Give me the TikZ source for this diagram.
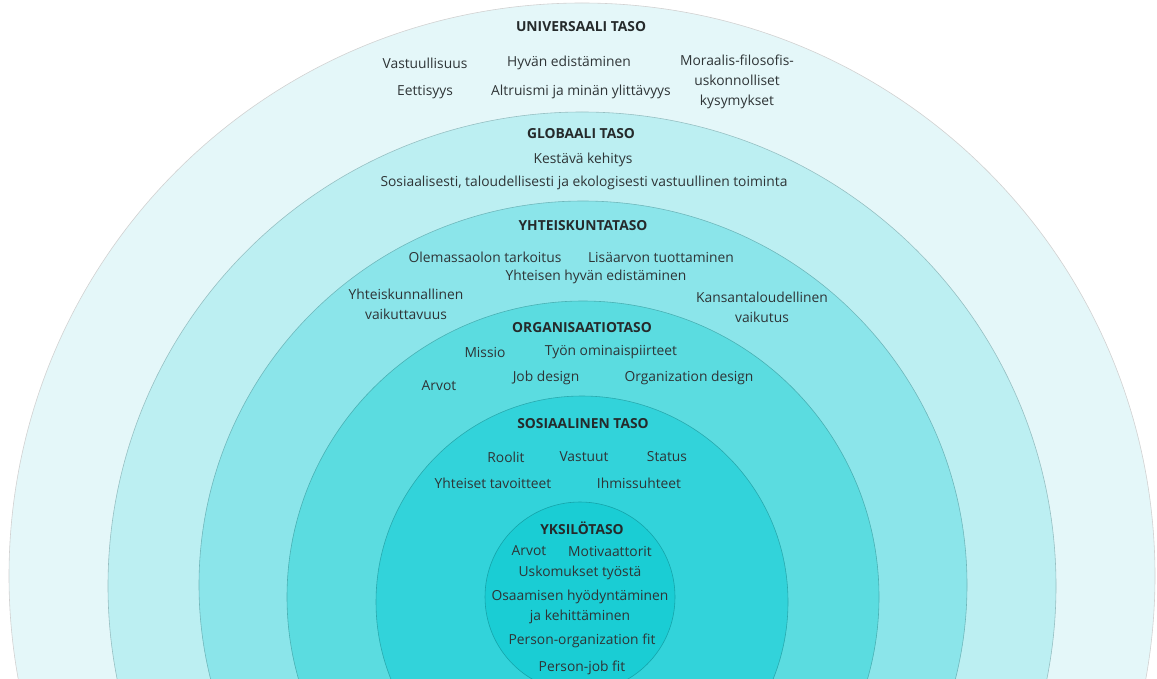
\documentclass[tikz,border=0pt]{standalone}
\usepackage{fontspec}
\setmainfont{Open Sans}

\definecolor{lvA}{HTML}{E4F7F9}
\definecolor{lvB}{HTML}{BCEFF2}
\definecolor{lvC}{HTML}{8BE5EA}
\definecolor{lvD}{HTML}{5BDCE0}
\definecolor{lvE}{HTML}{32D3DA}
\definecolor{lvF}{HTML}{1ACDD4}
\definecolor{txt}{HTML}{2E3436}

\tikzset{
  ring/.style={line width=0.5pt},
  title/.style={font=\bfseries\fontsize{11.8}{14}\selectfont, text=txt!80!black, inner sep=0pt},
  item/.style={font=\fontsize{11.8}{17}\selectfont, text=txt, align=center, inner sep=0pt}
}

\begin{document}
\begin{tikzpicture}[x=0.03cm,y=-0.03cm]
  \useasboundingbox (0,0) rectangle (1157,679);
  \fill[white] (0,0) rectangle (1157,679);

  % levels, outermost first
  \begin{scope}
    \clip (0,0) rectangle (1157,679);
    \draw[ring, draw=black!18, fill=lvA] (582,576) circle (573);
    \draw[ring, draw=lvB!80!black, fill=lvB] (582,586) circle (474);
    \draw[ring, draw=lvC!80!black, fill=lvC] (583,585) circle (384);
    \draw[ring, draw=lvD!80!black, fill=lvD] (583,597) circle (296);
    \draw[ring, draw=lvE!80!black, fill=lvE] (582,602) circle (206);
    \draw[ring, draw=lvF!80!black, fill=lvF] (580,597) circle (95);
  \end{scope}

  % universaali taso
  \node[title] (u0) at (581,27) {UNIVERSAALI TASO};
  \node[item] (u1) at (425,63) {Vastuullisuus};
  \node[item] (u2) at (569,63) {Hyvän edistäminen};
  \node[item] (u3) at (737,82) {Moraalis-filosofis-\\uskonnolliset\\kysymykset};
  \node[item] (u4) at (425,92) {Eettisyys};
  \node[item] (u5) at (581,92) {Altruismi ja minän ylittävyys};

  % globaali taso
  \node[title] (g0) at (581,134) {GLOBAALI TASO};
  \node[item] (g1) at (583,160) {Kestävä kehitys};
  \node[item] (g2) at (584,183) {Sosiaalisesti, taloudellisesti ja ekologisesti vastuullinen toiminta};

  % yhteiskuntataso
  \node[title] (y0) at (583,226) {YHTEISKUNTATASO};
  \node[item] (y1) at (485,257) {Olemassaolon tarkoitus};
  \node[item] (y2) at (661,257) {Lisäarvon tuottaminen};
  \node[item] (y3) at (596,277) {Yhteisen hyvän edistäminen};
  \node[item] (y4) at (406,304) {Yhteiskunnallinen\\vaikuttavuus};
  \node[item] (y5) at (762,307) {Kansantaloudellinen\\vaikutus};

  % organisaatiotaso
  \node[title] (o0) at (582,328) {ORGANISAATIOTASO};
  \node[item] (o1) at (485,352) {Missio};
  \node[item] (o2) at (611,352) {Työn ominaispiirteet};
  \node[item] (o3) at (439,386) {Arvot};
  \node[item] (o4) at (546,378) {Job design};
  \node[item] (o5) at (689,378) {Organization design};

  % sosiaalinen taso
  \node[title] (s0) at (583,424) {SOSIAALINEN TASO};
  \node[item] (s1) at (506,457) {Roolit};
  \node[item] (s2) at (584,457) {Vastuut};
  \node[item] (s3) at (667,457) {Status};
  \node[item] (s4) at (493,483) {Yhteiset tavoitteet};
  \node[item] (s5) at (639,483) {Ihmissuhteet};

  % yksilötaso
  \node[title] (k0) at (582,528) {YKSILÖTASO};
  \node[item] (k1) at (529,551) {Arvot};
  \node[item] (k2) at (610,551) {Motivaattorit};
  \node[item] (k3) at (580,573) {Uskomukset työstä};
  \node[item] (k4) at (580,607) {Osaamisen hyödyntäminen\\ja kehittäminen};
  \node[item] (k5) at (582,641) {Person-organization fit};
  \node[item] (k6) at (582,668) {Person-job fit};
\end{tikzpicture}
\end{document}
